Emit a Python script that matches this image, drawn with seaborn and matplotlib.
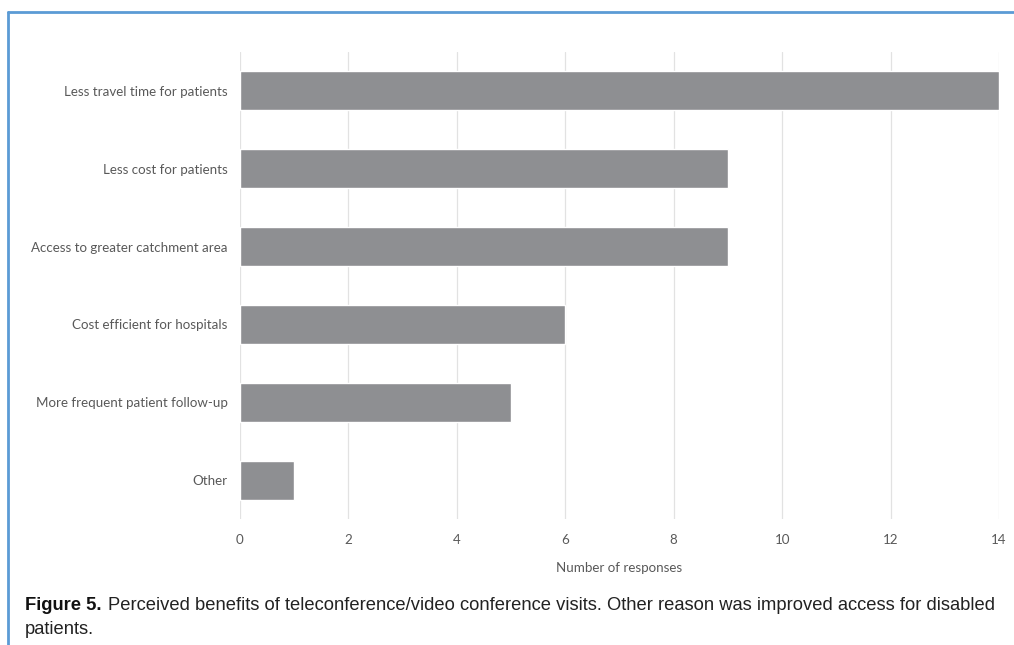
import matplotlib
matplotlib.use("Agg")
import matplotlib.pyplot as plt
import seaborn as sns
import pandas as pd
from matplotlib.lines import Line2D

categories = ["Less travel time for patients", "Less cost for patients",
              "Access to greater catchment area", "Cost efficient for hospitals",
              "More frequent patient follow-up", "Other"]
responses = [14, 9, 9, 6, 5, 1]
x_ticks = [0, 2, 4, 6, 8, 10, 12, 14]

sns.set_theme(style="white")
plt.rcParams['font.family'] = ['Lato', 'DejaVu Sans']

df = pd.DataFrame({"category": categories, "responses": responses})

fig = plt.figure(figsize=(10.14, 6.45), dpi=100)
ax = fig.add_axes([240/1014, 1-519/645, 759/1014, 467/645])

sns.barplot(data=df, y="category", x="responses", orient="h", color="#8e8f92",
            width=0.5, saturation=1, ax=ax, zorder=3)
ax.set_xlim(0, 14)
ax.set_xticks(x_ticks)
ax.xaxis.grid(True, color="#e2e2e2", linewidth=0.9, zorder=0)
ax.set_axisbelow(True)
for s in ax.spines.values():
    s.set_visible(False)
ax.tick_params(axis="both", length=0, colors="#595959", labelsize=9.6)
ax.tick_params(axis="x", pad=11)
ax.tick_params(axis="y", pad=9)
ax.set_ylabel("")
ax.set_xlabel("Number of responses", color="#595959", fontsize=9.6, labelpad=11)

# blue frame
fig.add_artist(Line2D([8/1014, 1], [1-11.5/645, 1-11.5/645], color="#5b9bd5", linewidth=2,
                      transform=fig.transFigure))
fig.add_artist(Line2D([8/1014, 8/1014], [0, 1-11.5/645], color="#5b9bd5", linewidth=2,
                      transform=fig.transFigure))

cap_y1 = 1 - 606/645
cap_y2 = 1 - 629/645
fs = 13.2
t1 = fig.text(25/1014, cap_y1, "Figure 5.", fontsize=fs, fontweight="bold",
              family=["Liberation Sans Narrow", "Liberation Sans", "DejaVu Sans"], color="#111111", va="center")
fig.canvas.draw()
bb = t1.get_window_extent()
fig.text((bb.x1 + 7)/1014, cap_y1,
         "Perceived benefits of teleconference/video conference visits. Other reason was improved access for disabled",
         fontsize=fs, family=["Liberation Sans", "DejaVu Sans"], color="#222222", va="center")
fig.text(25/1014, cap_y2, "patients.", fontsize=fs, family=["Liberation Sans", "DejaVu Sans"],
         color="#222222", va="center")

fig.savefig("out.png", dpi=100)
